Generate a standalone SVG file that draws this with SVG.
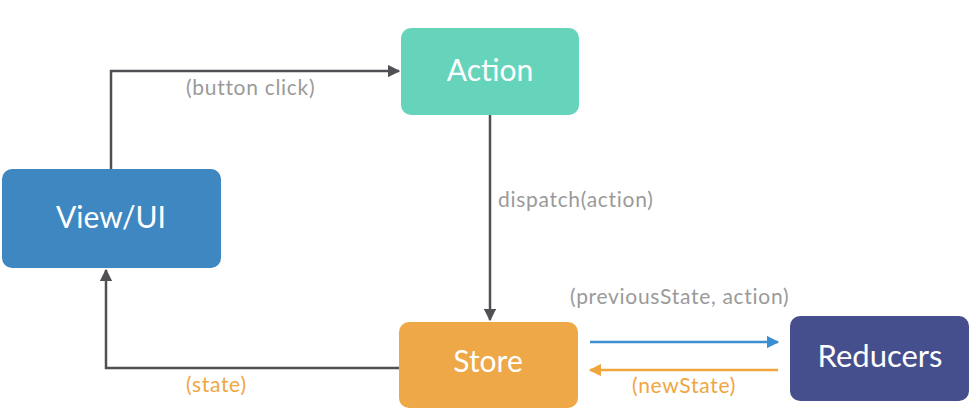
<svg xmlns="http://www.w3.org/2000/svg" width="976" height="414" viewBox="0 0 976 414">
  <defs>
    <style>
      .node-label { font-family: Lato, "Open Sans", sans-serif; font-size: 30px; fill: #ffffff; text-anchor: middle; dominant-baseline: central; }
      .edge-label { font-family: Lato, "Open Sans", sans-serif; font-size: 21px; letter-spacing: 0.7px; }
      .gray { fill: #9a9a9a; }
      .orange { fill: #f0a63f; }
      .link { fill: none; stroke-width: 2.5; }
    </style>
    <marker id="arrow-dark" viewBox="0 0 10 10" refX="9" refY="5" markerWidth="5" markerHeight="5" orient="auto" markerUnits="strokeWidth">
      <path d="M0,0 L10,5 L0,10 z" fill="#4f4f54"/>
    </marker>
    <marker id="arrow-blue" viewBox="0 0 10 10" refX="9" refY="5" markerWidth="5" markerHeight="5" orient="auto" markerUnits="strokeWidth">
      <path d="M0,0 L10,5 L0,10 z" fill="#3a8fd2"/>
    </marker>
    <marker id="arrow-orange" viewBox="0 0 10 10" refX="9" refY="5" markerWidth="5" markerHeight="5" orient="auto" markerUnits="strokeWidth">
      <path d="M0,0 L10,5 L0,10 z" fill="#f0a63f"/>
    </marker>
  </defs>

  <rect width="976" height="414" fill="#ffffff"/>

  <!-- connectors -->
  <g id="connectors">
    <path class="link" d="M111,169 V71 H399" stroke="#4f4f54" marker-end="url(#arrow-dark)"/>
    <path class="link" d="M490,115 V320" stroke="#4f4f54" marker-end="url(#arrow-dark)"/>
    <path class="link" d="M399,368 H106 V270" stroke="#4f4f54" marker-end="url(#arrow-dark)"/>
    <path class="link" d="M590,342 H778" stroke="#3a8fd2" marker-end="url(#arrow-blue)"/>
    <path class="link" d="M778,370 H590" stroke="#f0a63f" marker-end="url(#arrow-orange)"/>

    <text class="edge-label gray" x="186" y="95">(button click)</text>
    <text class="edge-label gray" x="498" y="207">dispatch(action)</text>
    <text class="edge-label gray" x="570" y="304">(previousState, action)</text>
    <text class="edge-label orange" x="186" y="392">(state)</text>
    <text class="edge-label orange" x="632" y="393">(newState)</text>
  </g>

  <!-- nodes -->
  <g id="view-ui">
    <rect x="2" y="169" width="219" height="99" rx="10" fill="#3f87c1"/>
    <text class="node-label" x="111" y="216">View/UI</text>
  </g>
  <g id="action">
    <rect x="401" y="28" width="178" height="87" rx="10" fill="#65d4bb"/>
    <text class="node-label" x="490" y="69">Action</text>
  </g>
  <g id="store">
    <rect x="399" y="322" width="179" height="86" rx="10" fill="#eea847"/>
    <text class="node-label" x="488" y="360">Store</text>
  </g>
  <g id="reducers">
    <rect x="790" y="316" width="179" height="85" rx="10" fill="#464f8e"/>
    <text class="node-label" x="880" y="355" style="font-size:31px">Reducers</text>
  </g>
</svg>
